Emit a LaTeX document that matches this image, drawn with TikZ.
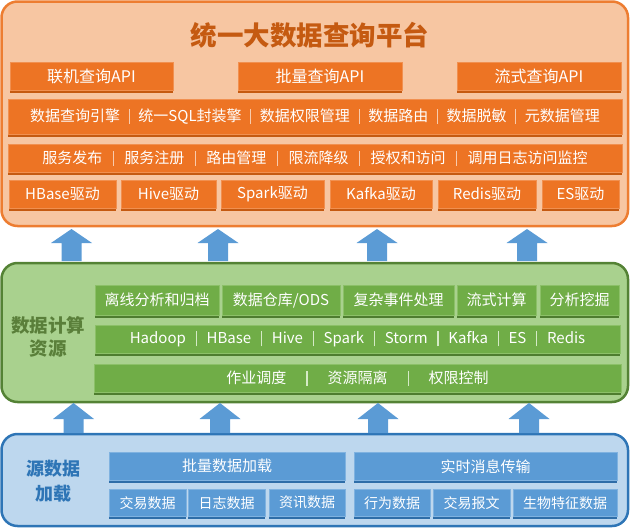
\documentclass[tikz,border=0pt]{standalone}
\usepackage{fontspec}
\setmainfont{Noto Sans CJK SC}
\usetikzlibrary{shadows}
\definecolor{orFill}{HTML}{F7C6A2}
\definecolor{orLine}{HTML}{ED7D31}
\definecolor{orBox}{HTML}{ED7424}
\definecolor{orEdge}{HTML}{F19050}
\definecolor{orShadow}{HTML}{C55A11}
\definecolor{orTitle}{HTML}{C55A11}
\definecolor{orSep}{HTML}{F8CBAD}
\definecolor{grFill}{HTML}{A9D18E}
\definecolor{grLine}{HTML}{548235}
\definecolor{grBox}{HTML}{70AD47}
\definecolor{grEdge}{HTML}{8CC068}
\definecolor{grShadow}{HTML}{4E7D2F}
\definecolor{grLabel}{HTML}{5A7F3A}
\definecolor{grSep}{HTML}{D5EAC6}
\definecolor{blFill}{HTML}{BDD7EE}
\definecolor{blLine}{HTML}{2E75B6}
\definecolor{blBox}{HTML}{5B9BD5}
\definecolor{blEdge}{HTML}{7FB2E0}
\definecolor{blShadow}{HTML}{2E6DA8}
\definecolor{blLabel}{HTML}{2E75B6}
\definecolor{arrCol}{HTML}{5B9BD5}
\newcommand\mybx[7]{\node[#1, minimum width={#5pt-#3pt}, minimum height={#6pt-#4pt-2.5pt}] (#2) at ({(#3+#5)/2},{(#4+#6-2.5)/2}) {#7};}
\newcommand\myarr[5]{\fill[arrCol] ({#2-10},#5) -- ({#2-10},#4) -- ({#2-20.5},#4) -- (#2,#3) -- ({#2+20.5},#4) -- ({#2+10},#4) -- ({#2+10},#5) -- cycle;}
\newcommand\mybar[1]{\textcolor{#1}{\rule[-2.5pt]{1.1pt}{15pt}}}
\newcommand\osep{\hspace{8.6pt}\mybar{orSep}\hspace{8.6pt}}
\newcommand\osepb{\hspace{10.5pt}\mybar{orSep}\hspace{10.5pt}}
\newcommand\gsep{\hspace{9.8pt}\mybar{grSep}\hspace{9.8pt}}
\newcommand\gsepb{\hspace{20pt}\mybar{grSep}\hspace{20pt}}
\begin{document}
\begin{tikzpicture}[x=1pt,y=-1pt,
  bx/.style={inner sep=0pt, text=white, font=\fontsize{15}{17}\selectfont},
  obx/.style={bx, fill=orBox, draw=orEdge, line width=0.6pt, drop shadow={shadow xshift=0.4pt, shadow yshift=-2.5pt, fill=orShadow, opacity=1}},
  gbx/.style={bx, fill=grBox, draw=grEdge, line width=0.6pt, drop shadow={shadow xshift=0.4pt, shadow yshift=-2.5pt, fill=grShadow, opacity=1}},
  bbx/.style={bx, fill=blBox, draw=blEdge, line width=0.6pt, drop shadow={shadow xshift=0.4pt, shadow yshift=-2.5pt, fill=blShadow, opacity=1}},
  sbx/.style={font=\fontsize{14}{16}\selectfont},
  abx/.style={font=\fontsize{16}{18}\selectfont},
  cont/.style={rounded corners=16pt, line width=2.5pt}]
\useasboundingbox (0,0) rectangle (632,530);
% containers
\draw[cont, fill=orFill, draw=orLine] (1.5,1.5) rectangle (628,226) ;
\draw[cont, fill=grFill, draw=grLine] (1.5,263) rectangle (628,402);
\draw[cont, fill=blFill, draw=blLine] (1.5,434) rectangle (628,526);
% title
\node[text=orTitle, font=\fontsize{26.5}{28}\selectfont\bfseries] (title) at (310,35) {统一大数据查询平台};
% API row
\mybx{obx,abx}{api1}{10}{62}{173}{93}{联机查询API}
\mybx{obx,abx}{api2}{238}{62}{402}{93}{批量查询API}
\mybx{obx,abx}{api3}{457}{62}{621}{93}{流式查询API}
% engine row
\mybx{obx}{eng}{8}{99}{622}{137}{数据查询引擎\osep 统一SQL封装擎\osep 数据权限管理\osep 数据路由\osep 数据脱敏\osep 元数据管理}
% service row
\mybx{obx}{svc}{8}{144}{622}{175}{服务发布\osepb 服务注册\osepb 路由管理\osepb 限流降级\osepb 授权和访问\osepb 调用日志访问监控}
% drivers
\mybx{obx}{d1}{9}{180}{116}{211}{HBase驱动}
\mybx{obx}{d2}{121}{180}{216}{211}{Hive驱动}
\mybx{obx}{d3}{221}{180}{324}{211}{Spark驱动}
\mybx{obx}{d4}{330}{180}{432}{211}{Kafka驱动}
\mybx{obx}{d5}{438}{180}{536}{211}{Redis驱动}
\mybx{obx}{d6}{542}{180}{619}{211}{ES驱动}
% arrows top
\myarr{a1}{71.5}{229}{243}{261}
\myarr{a2}{218}{229}{243}{261}
\myarr{a3}{377}{229}{243}{261}
\myarr{a4}{527}{229}{243}{261}
% green label
\node[text=grLabel, font=\fontsize{18.5}{23}\selectfont\bfseries, align=center] (glab) at (48,337) {数据计算\\资源};
% green rows
\mybx{gbx}{g1}{95}{285}{219}{318}{离线分析和归档}
\mybx{gbx}{g2}{222}{285}{340}{318}{数据仓库/ODS}
\mybx{gbx}{g3}{343}{285}{454}{318}{复杂事件处理}
\mybx{gbx}{g4}{457}{285}{536}{318}{流式计算}
\mybx{gbx}{g5}{540}{285}{619}{318}{分析挖掘}
\mybx{gbx}{gtech}{95}{325}{620}{356}{Hadoop\gsep HBase\gsep Hive\gsep Spark\gsep Storm\gsep Kafka\gsep ES\gsep Redis}
\mybx{gbx}{gsch}{94}{364}{621}{395}{作业调度\gsepb 资源隔离\gsepb 权限控制}
% arrows bottom
\myarr{b1}{73.5}{403}{419}{433}
\myarr{b2}{220}{403}{419}{433}
\myarr{b3}{378}{403}{419}{433}
\myarr{b4}{529}{403}{419}{433}
% blue label
\node[text=blLabel, font=\fontsize{18}{25}\selectfont\bfseries, align=center] (blab) at (54,481) {源数据\\加载};
% blue rows
\mybx{bbx}{l1}{109}{452}{345}{483}{批量数据加载}
\mybx{bbx}{l2}{354}{452}{617}{483}{实时消息传输}
\mybx{bbx,sbx}{s1}{109}{489}{186}{519}{交易数据}
\mybx{bbx,sbx}{s2}{188}{489}{265}{519}{日志数据}
\mybx{bbx,sbx}{s3}{269}{489}{345}{519}{资讯数据}
\mybx{bbx,sbx}{s4}{354}{489}{430}{519}{行为数据}
\mybx{bbx,sbx}{s5}{433}{489}{510}{519}{交易报文}
\mybx{bbx,sbx}{s6}{513}{489}{617}{519}{生物特征数据}
\end{tikzpicture}
\end{document}
